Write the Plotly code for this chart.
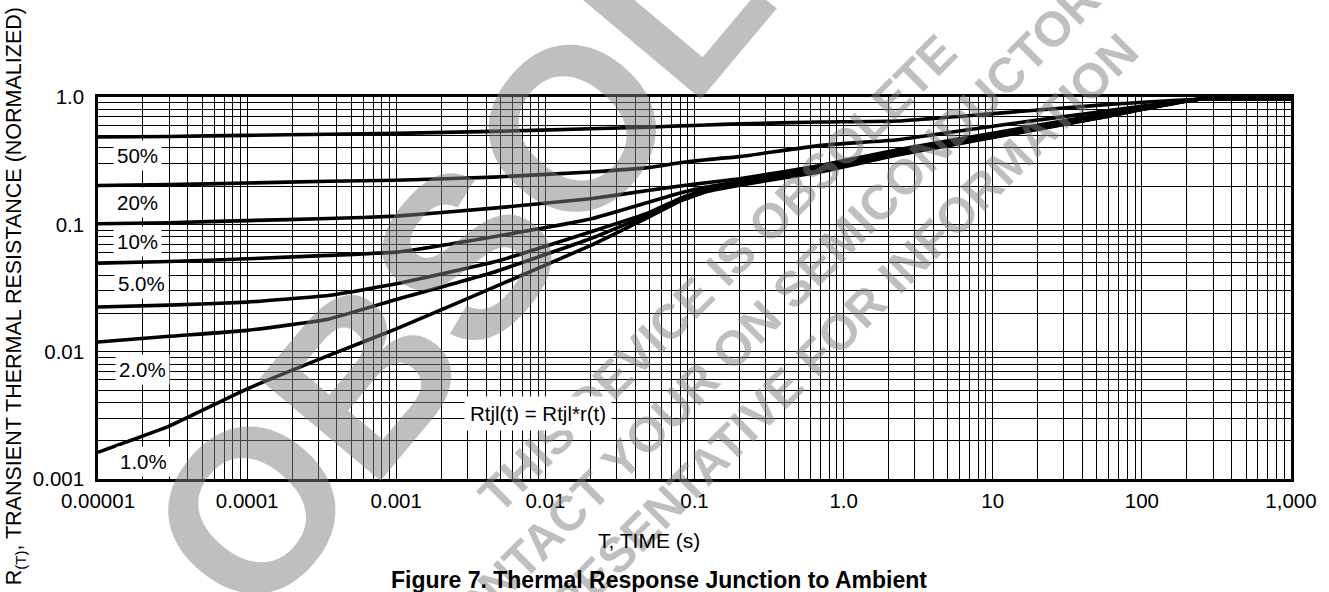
import math
import plotly.graph_objects as go

# ---------------- data ----------------
time_s = [1e-5, 3e-5, 1e-4, 3.5e-4, 1e-3, 4.5e-3, 0.02, 0.05, 0.08, 0.12, 0.2, 0.7, 2.3, 10, 50, 240, 1000]

r_50 = [0.485, 0.490, 0.500, 0.510, 0.518, 0.537, 0.563, 0.580, 0.593, 0.603, 0.615, 0.636, 0.648, 0.740, 0.860, 0.960, 0.960]
r_20 = [0.202, 0.205, 0.211, 0.218, 0.222, 0.235, 0.2575, 0.280, 0.305, 0.322, 0.340, 0.417, 0.462, 0.590, 0.760, 0.960, 0.960]
r_10 = [0.101, 0.103, 0.107, 0.111, 0.116, 0.134, 0.159, 0.185, 0.200, 0.212, 0.228, 0.290, 0.385, 0.520, 0.720, 0.960, 0.960]
r_05 = [0.0496, 0.051, 0.0536, 0.057, 0.0605, 0.080, 0.110, 0.150, 0.176, 0.196, 0.216, 0.275, 0.370, 0.500, 0.700, 0.960, 0.960]
r_02 = [0.0224, 0.0232, 0.0245, 0.0276, 0.0341, 0.0505, 0.087, 0.124, 0.160, 0.188, 0.210, 0.268, 0.360, 0.490, 0.690, 0.960, 0.960]
r_01 = [0.0119, 0.0132, 0.0147, 0.018, 0.0257, 0.0421, 0.077, 0.120, 0.155, 0.183, 0.206, 0.262, 0.355, 0.485, 0.680, 0.960, 0.960]
r_sp = [0.00162, 0.0026, 0.0051, 0.0093, 0.0151, 0.032, 0.068, 0.115, 0.152, 0.180, 0.203, 0.258, 0.350, 0.480, 0.680, 0.960, 0.960]

curves = [r_50, r_20, r_10, r_05, r_02, r_01, r_sp]

duty_labels = ["50%", "20%", "10%", "5.0%", "2.0%", "1.0%"]
duty_label_t = [1.85e-5, 1.85e-5, 1.85e-5, 1.96e-5, 1.99e-5, 2.02e-5]
duty_label_r = [0.348, 0.1495, 0.0738, 0.0341, 0.00724, 0.00138]

x_tick_vals = [1e-5, 1e-4, 1e-3, 1e-2, 1e-1, 1, 10, 100, 1000]
x_tick_text = ["0.00001", "0.0001", "0.001", "0.01", "0.1", "1.0", "10", "100", "1,000"]
y_tick_vals = [0.001, 0.01, 0.1, 1]
y_tick_text = ["0.001", "0.01", "0.1", "1.0"]

x_minor = [k * 10.0 ** e for e in range(-5, 3) for k in range(2, 10)]
y_minor = [k * 10.0 ** e for e in range(-3, 0) for k in range(2, 10)]

FONT = "Liberation Sans, Arial, Helvetica, sans-serif"

# plot-area pixel geometry
L, R, T, B = 98, 1296, 97, 479
W, H = 1329, 592


def px(xp):
    return (xp - L) / (R - L)


def py(yp):
    return (B - yp) / (B - T)


fig = go.Figure()
for r in curves:
    fig.add_trace(go.Scatter(x=time_s, y=r, mode="lines",
                             line=dict(color="black", width=3.6, shape="spline", smoothing=0.35),
                             hoverinfo="skip", showlegend=False))

annotations = []
# watermark
wm = "rgba(128,128,128,0.5)"
annotations.append(dict(text="<b>OBSOLETE</b>", xref="paper", yref="paper",
                        x=px(604), y=py(94), showarrow=False, textangle=-50,
                        font=dict(family=FONT, size=230, color=wm),
                        xanchor="center", yanchor="middle"))
annotations.append(dict(text="<b>THIS DEVICE IS OBSOLETE<br>CONTACT YOUR ON SEMICONDUCTOR<br>REPRESENTATIVE FOR INFORMATION</b>",
                        xref="paper", yref="paper", x=px(765), y=py(318), showarrow=False,
                        textangle=-45, font=dict(family=FONT, size=49, color=wm),
                        xanchor="center", yanchor="middle"))

for lab, t, r in zip(duty_labels, duty_label_t, duty_label_r):
    annotations.append(dict(text=lab, x=math.log10(t), y=math.log10(r),
                            xref="x", yref="y", showarrow=False, bgcolor="white",
                            xanchor="center", yanchor="middle",
                            borderpad=3, font=dict(family=FONT, size=20.5, color="black")))

annotations.append(dict(text="Rtjl(t) = Rtjl*r(t)", x=math.log10(0.00893), y=math.log10(0.00327),
                        xref="x", yref="y", showarrow=False, bgcolor="white", borderpad=5,
                        xanchor="center", yanchor="middle",
                        font=dict(family=FONT, size=20.5, color="black")))

annotations.append(dict(text="T, TIME (s)", xref="paper", yref="paper", x=px(651), y=py(540),
                        xanchor="center", yanchor="middle",
                        showarrow=False, font=dict(family=FONT, size=21, color="black")))
annotations.append(dict(text="R<sub>(T)</sub>, TRANSIENT THERMAL RESISTANCE (NORMALIZED)",
                        xref="paper", yref="paper", x=px(15), y=py(296), textangle=-90,
                        xanchor="center", yanchor="middle",
                        showarrow=False, font=dict(family=FONT, size=21.5, color="black")))
annotations.append(dict(text="<b>Figure 7. Thermal Response Junction to Ambient</b>",
                        xref="paper", yref="paper", x=px(661), y=py(580),
                        xanchor="center", yanchor="middle",
                        showarrow=False, font=dict(family=FONT, size=23, color="black")))

axis_common = dict(type="log", showgrid=True, gridcolor="black", gridwidth=1.4,
                   showline=True, linecolor="black", linewidth=2.5, mirror=True,
                   ticks="", zeroline=False,
                   tickfont=dict(family=FONT, size=20.5, color="black"))

fig.update_layout(
    width=W, height=H,
    margin=dict(l=L, r=W - R, t=T, b=H - B, pad=0),
    plot_bgcolor="white", paper_bgcolor="white",
    showlegend=False,
    annotations=annotations,
    xaxis=dict(range=[-5, 3], tickmode="array", tickvals=x_tick_vals, ticktext=x_tick_text,
               minor=dict(tickmode="array", tickvals=x_minor, showgrid=True,
                          gridcolor="black", gridwidth=1.4, ticks=""),
               ticklabelstandoff=2, **axis_common),
    yaxis=dict(range=[-3, 0], tickmode="array", tickvals=y_tick_vals, ticktext=y_tick_text,
               minor=dict(tickmode="array", tickvals=y_minor, showgrid=True,
                          gridcolor="black", gridwidth=1.4, ticks=""),
               ticklabelstandoff=7, **axis_common),
)

fig.write_html("out.html")
